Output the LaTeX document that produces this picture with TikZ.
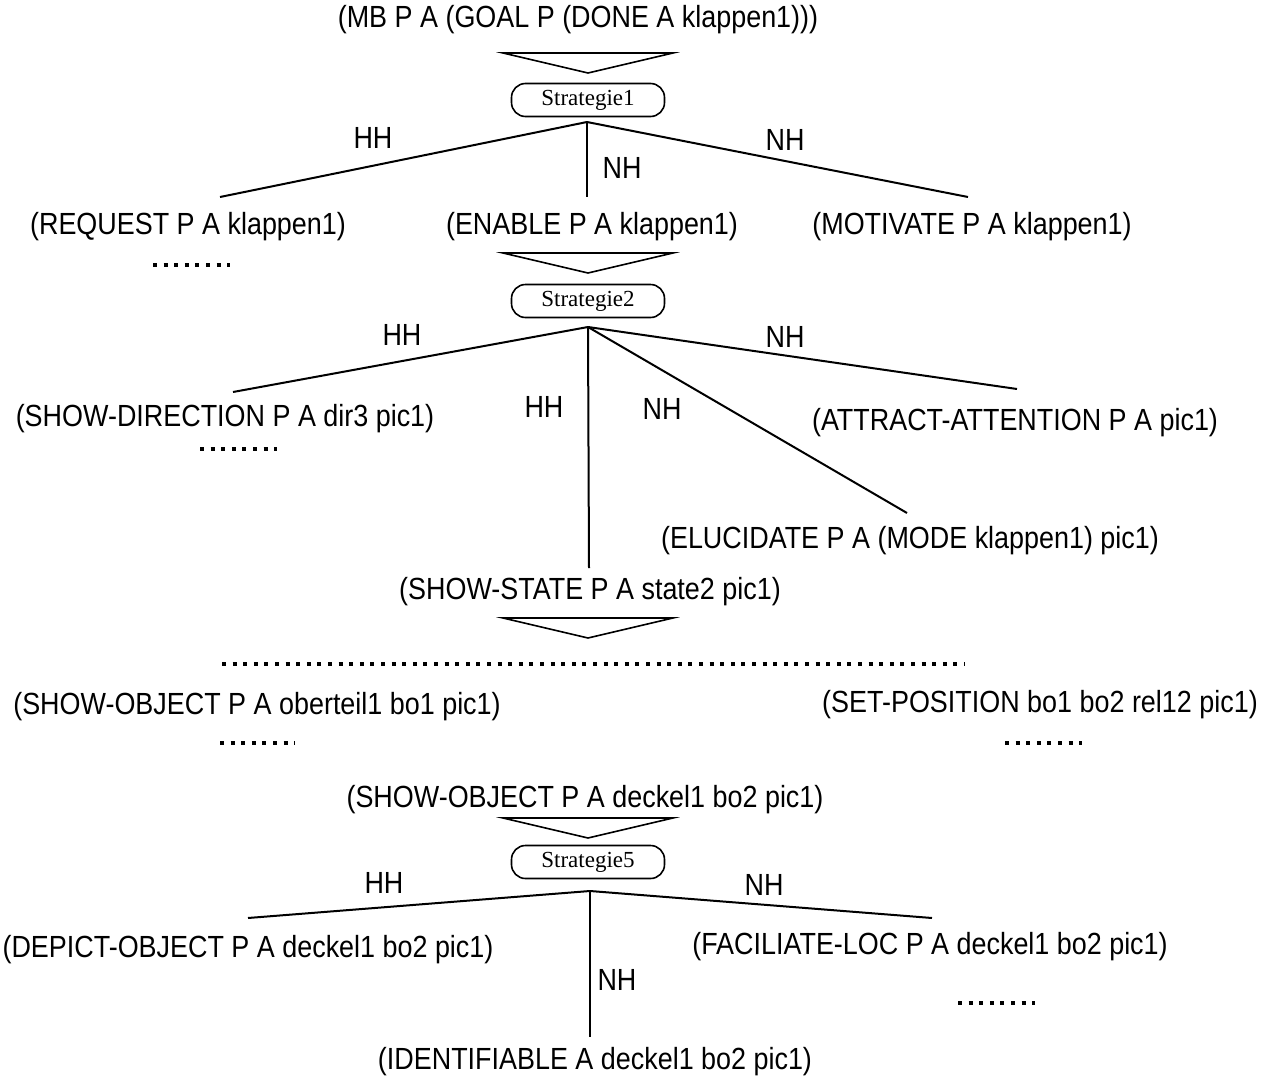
\documentclass[tikz,border=0pt]{standalone}
\usepackage{fontspec}
\setmainfont{Liberation Sans}[FakeStretch=0.88]
\newfontfamily\stratfont{Liberation Serif}
\usetikzlibrary{arrows.meta,positioning,calc}
\tikzset{
  goal/.style={inner sep=0pt, font=\fontsize{15.3pt}{17pt}\selectfont},
  lbl/.style={inner sep=0pt, font=\fontsize{15.3pt}{17pt}\selectfont},
  strat/.style={draw, line width=0.8pt, rounded corners=7pt, minimum width=76.5pt, minimum height=16.5pt, inner sep=0pt, font=\stratfont\fontsize{11.5pt}{13pt}\selectfont},
  branch/.style={line width=1pt},
  more/.style={line width=2pt, dash pattern=on 2pt off 3.3pt},
  flowtri/.pic={\draw[line width=0.8pt] (-85,0) -- (85,0) -- (0,20) -- cycle;}
}

\begin{document}
\begin{tikzpicture}[x=0.5pt, y=-0.5pt]
  \useasboundingbox (0,0) rectangle (1265,1082);

  % first expansion
  \node[goal] (mb) at (578,20) {(MB P A (GOAL P (DONE A klappen1)))};
  \pic at (588,53) {flowtri};
  \node[strat] (st1) at (588,100) {Strategie1};
  \coordinate (o1) at (587,122);
  \node[goal] (request) at (188,227) {(REQUEST P A klappen1)};
  \node[goal] (enable) at (592,227) {(ENABLE P A klappen1)};
  \node[goal] (motivate) at (972,227) {(MOTIVATE P A klappen1)};
  \coordinate (e1l) at (220,197);
  \coordinate (e1m) at (587,197);
  \coordinate (e1r) at (968,197);
  \draw[branch] (o1) -- (e1l);
  \draw[branch] (o1) -- (e1m);
  \draw[branch] (o1) -- (e1r);
  \node[lbl] at (373,138) {HH};
  \node[lbl] at (622,168) {NH};
  \node[lbl] at (785,140) {NH};
  \draw[more] (153,265) -- (230,265);

  % second expansion
  \pic at (588,253) {flowtri};
  \node[strat] (st2) at (588,301) {Strategie2};
  \coordinate (o2) at (588,327);
  \node[goal] (showdir) at (225,419) {(SHOW-DIRECTION P A dir3 pic1)};
  \node[goal] (attract) at (1015,423) {(ATTRACT-ATTENTION P A pic1)};
  \node[goal] (elucidate) at (910,541) {(ELUCIDATE P A (MODE klappen1) pic1)};
  \node[goal] (showstate) at (590,592) {(SHOW-STATE P A state2 pic1)};
  \coordinate (e2l) at (233,392);
  \coordinate (e2m) at (589,568);
  \coordinate (e2d) at (907,513);
  \coordinate (e2r) at (1017,389);
  \draw[branch] (o2) -- (e2l);
  \draw[branch] (o2) -- (e2m);
  \draw[branch] (o2) -- (e2d);
  \draw[branch] (o2) -- (e2r);
  \node[lbl] at (402,335) {HH};
  \node[lbl] at (785,337) {NH};
  \node[lbl] at (544,407) {HH};
  \node[lbl] at (662,409) {NH};
  \draw[more] (200,449) -- (277,449);

  % third expansion
  \pic at (588,618) {flowtri};
  \draw[more] (222,664) -- (965,664);
  \node[goal] (showobj) at (257,707) {(SHOW-OBJECT P A oberteil1 bo1 pic1)};
  \node[goal] (setpos) at (1040,705) {(SET-POSITION bo1 bo2 rel12 pic1)};
  \draw[more] (220,743) -- (295,743);
  \draw[more] (1005,743) -- (1082,743);

  % fifth expansion
  \node[goal] (showdeckel) at (585,800) {(SHOW-OBJECT P A deckel1 bo2 pic1)};
  \pic at (588,818) {flowtri};
  \node[strat] (st5) at (588,862) {Strategie5};
  \coordinate (o5) at (590,891);
  \node[goal] (depict) at (248,950) {(DEPICT-OBJECT P A deckel1 bo2 pic1)};
  \node[goal] (faciliate) at (930,947) {(FACILIATE-LOC P A deckel1 bo2 pic1)};
  \node[goal] (identifiable) at (595,1062) {(IDENTIFIABLE A deckel1 bo2 pic1)};
  \coordinate (e5l) at (248,918);
  \coordinate (e5m) at (590,1037);
  \coordinate (e5r) at (932,918);
  \draw[branch] (o5) -- (e5l);
  \draw[branch] (o5) -- (e5m);
  \draw[branch] (o5) -- (e5r);
  \node[lbl] at (384,883) {HH};
  \node[lbl] at (764,885) {NH};
  \node[lbl] at (617,980) {NH};
  \draw[more] (958,1003) -- (1035,1003);
\end{tikzpicture}
\end{document}
